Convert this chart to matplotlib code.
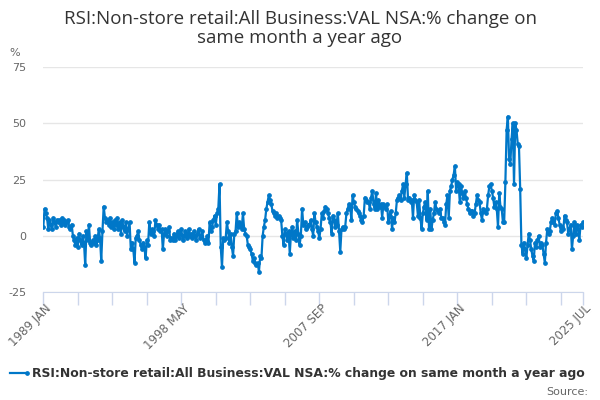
import numpy as np
import pandas as pd
from matplotlib import pyplot as plt

# yearly blocks of monthly values, 1989 JAN .. 2025 JUL
y1989 = [4, 12, 10, 8, 3, 7, 5, 3, 8, 6, 4, 7]
y1990 = [6, 7, 5, 8, 6, 7, 5, 6, 7, 4, 3, 5]
y1991 = [0, -2, -4, -1, -5, 1, -2, -4, 0, -3, -13, 2]
y1992 = [-2, 5, -3, -4, -2, -3, 0, -4, -2, 3, -1, -11]
y1993 = [2, 13, 8, 6, 7, 5, 8, 4, 6, 3, 7, 5]
y1994 = [8, 3, 6, 1, 7, 4, 2, 6, 0, 3, 6, -6]
y1995 = [-3, -6, -12, -1, 0, 2, -2, -4, -6, -3, -5, -10]
y1996 = [-2, -4, 6, 1, 3, 2, 0, 7, 5, 3, 5, 2]
y1997 = [3, -6, 1, 3, 0, 2, 4, -2, -1, -2, 1, -2]
y1998 = [0, 2, -1, 1, 3, -2, 0, 2, 1, -1, 3, 0]
y1999 = [1, -1, 2, 0, -2, 1, 3, -1, 0, 2, -2, -3]
y2000 = [-2, 0, -3, 6, 2, 4, 7, 9, 5, 10, 12, 23]
y2001 = [-5, -14, -1, -2, -1, 6, 2, -3, 1, -5, -9, 1]
y2002 = [2, 10, 4, 6, 5, 3, 10, 3, 1, 0, -4, -5]
y2003 = [-6, -8, -11, -10, -12, -13, -12, -16, -9, -10, 0, 4]
y2004 = [7, 12, 15, 18, 16, 14, 11, 10, 9, 10, 8, 9]
y2005 = [8, 7, 0, -4, 3, 1, -2, 2, -8, 1, 4, -1]
y2006 = [2, -2, 7, 1, -4, 0, 12, 5, 6, 3, 4, 5]
y2007 = [5, 7, 3, 0, 10, 6, 4, 2, -1, 3, 10, 8]
y2008 = [11, 13, 12, 10, 8, 6, 1, 9, 7, 4, 5, 10]
y2009 = [2, -7, 3, 4, 3, 4, 10, 12, 14, 13, 7, 18]
y2010 = [15, 13, 12, 11, 10, 9, 7, 6, 9, 17, 16, 15]
y2011 = [15, 12, 17, 20, 14, 12, 19, 12, 16, 13, 14, 8]
y2012 = [14, 13, 12, 14, 6, 9, 11, 3, 8, 6, 10, 16]
y2013 = [17, 18, 16, 20, 23, 17, 23, 28, 16, 17, 15, 16]
y2014 = [8, 18, 16, 15, 9, 16, 8, 3, 10, 13, 15, 7]
y2015 = [20, 3, 12, 3, 7, 10, 15, 12, 11, 10, 12, 8]
y2016 = [8, 6, 5, 14, 18, 8, 20, 22, 25, 27, 31, 20]
y2017 = [24, 23, 15, 22, 19, 17, 20, 17, 14, 12, 10, 11]
y2018 = [11, 9, 10, 14, 18, 16, 15, 10, 7, 12, 11, 10]
y2019 = [12, 18, 22, 23, 20, 17, 13, 15, 12, 4, 19, 13]
y2020 = [12, 6, 6, 24, 47, 53, 34, 32, 43, 50, 23, 50]
y2021 = [47, 41, 40, 21, -4, -8, -3, -6, -10, -4, 1, -2]
y2022 = [-6, -9, -11, -3, -5, -2, 0, -5, -3, -4, -8, -12]
y2023 = [-3, 3, 1, 2, 6, 8, 6, 5, 10, 11, 8, 5]
y2024 = [2, 4, 3, 9, 7, 6, 1, 3, 5, -6, 0, 6]
y2025 = [1, 5, 3, -2, 5, 4, 6]

values = (y1989 + y1990 + y1991 + y1992 + y1993 + y1994 + y1995 + y1996 + y1997
          + y1998 + y1999 + y2000 + y2001 + y2002 + y2003 + y2004 + y2005 + y2006
          + y2007 + y2008 + y2009 + y2010 + y2011 + y2012 + y2013 + y2014 + y2015
          + y2016 + y2017 + y2018 + y2019 + y2020 + y2021 + y2022 + y2023 + y2024
          + y2025)
months = pd.date_range("1989-01-01", periods=len(values), freq="MS")
month_labels = [d.strftime("%Y %b").upper() for d in months]

label_idx = [0, 112, 224, 336, 438]
tick_idx = list(range(0, 438, 28)) + [438]
y_ticks = [-25, 0, 25, 50, 75]

title = "RSI:Non-store retail:All Business:VAL NSA:% change on\nsame month a year ago"
series_name = "RSI:Non-store retail:All Business:VAL NSA:% change on same month a year ago"

BLUE = "#0077c8"

fig = plt.figure(figsize=(6, 4), dpi=100)
ax = fig.add_axes([0.0722, 0.27, 0.8995, 0.5625])

x = np.arange(len(values))
ax.plot(x, values, color=BLUE, lw=1.6, marker="o", ms=2.4, zorder=3)

ax.set_xlim(0, 438)
ax.set_ylim(-25, 75)
ax.set_yticks(y_ticks)
ax.set_yticklabels([str(v) for v in y_ticks], color="#666666", fontsize=8)
ax.yaxis.grid(True, color="#e6e6e6", lw=1)
ax.set_axisbelow(True)
ax.tick_params(axis="y", length=0, pad=12)

ax.set_xticks(tick_idx)
ax.set_xticklabels(["" for i in tick_idx])
ax.tick_params(axis="x", length=9, width=1, color="#ccd6eb", direction="out")
for i in label_idx:
    ax.text(i + 1, -29.5, month_labels[i], rotation=45, ha="right", va="top",
            rotation_mode="anchor", fontsize=8.5, color="#666666",
            transform=ax.transData)

for s in ["top", "right", "left"]:
    ax.spines[s].set_visible(False)
ax.spines["bottom"].set_color("#ccd6eb")

fig.text(0.5, 0.975, title, ha="center", va="top", fontsize=13.5,
         color="#333333", family="Open Sans", linespacing=1.1)
fig.text(0.015, 0.86, "%", fontsize=8, color="#666666")

fig.lines.append(plt.Line2D([0.017, 0.045], [0.0675, 0.0675], color=BLUE, lw=1.6,
                            marker="o", ms=2.4, markevery=[1],
                            transform=fig.transFigure))
fig.text(0.053, 0.0675, series_name, fontsize=8.95, fontweight="bold",
         color="#333333", va="center")
fig.text(0.98, 0.012, "Source:", fontsize=8, color="#666666", ha="right")

fig.savefig("out.png", dpi=100)
